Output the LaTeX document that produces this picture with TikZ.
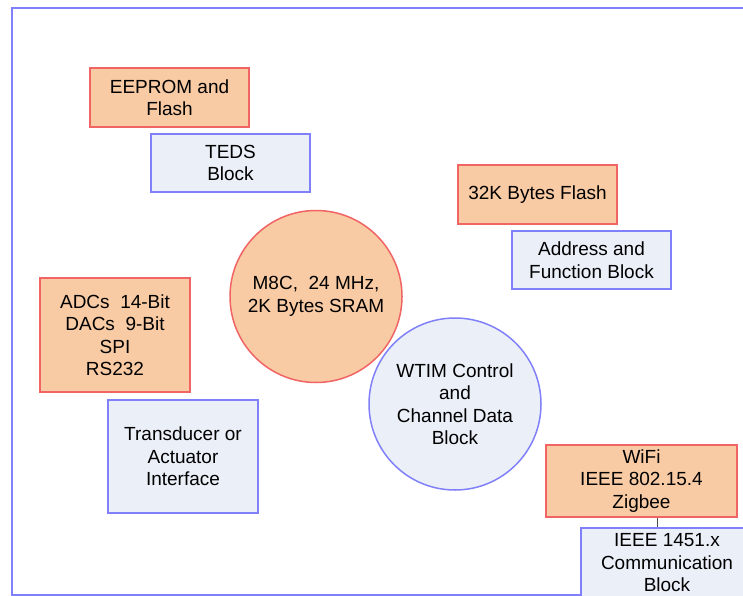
\documentclass[tikz,border=0pt]{standalone}
\usepackage{fontspec}
\setmainfont{Liberation Sans}
\usepackage{tikz}
\usetikzlibrary{calc}
\definecolor{boxorange}{RGB}{249,203,164}
\definecolor{boxred}{RGB}{240,100,100}
\definecolor{boxblue}{RGB}{235,239,248}
\definecolor{lineblue}{RGB}{128,128,250}
\tikzset{
  blk/.style={rectangle,align=center,inner sep=0pt,line width=1.5pt,
    font=\fontsize{19}{22.5}\selectfont},
  orangebox/.style={blk,draw=boxred,fill=boxorange},
  bluebox/.style={blk,draw=lineblue,fill=boxblue},
  orangecirc/.style={orangebox,circle,minimum size=172pt},
  bluecirc/.style={bluebox,circle,minimum size=172pt},
}
\begin{document}
\begin{tikzpicture}[x=1pt,y=-1pt]
\useasboundingbox (0,0) rectangle (743,596);
\clip (0,0) rectangle (743,596);
\fill[white] (0,0) rectangle (743,596);
\draw[lineblue,line width=2pt] (760,8) -- (12,8) -- (12,595) -- (600,595);
% memory side
\node[orangebox,minimum width=159pt,minimum height=59pt] (eeprom) at (169.5,97.5) {EEPROM and\\Flash};
\node[bluebox,minimum width=159pt,minimum height=58pt] (teds) at (230.5,163) {TEDS\\Block};
\node[orangebox,minimum width=159pt,minimum height=59pt] (flash) at (537.5,194.5) {32K Bytes Flash};
\node[bluebox,minimum width=159pt,minimum height=58pt] (addr) at (591.5,260) {Address and\\Function Block};
% processor
\node[orangecirc] (mcu) at (316,296.5) {M8C,\ \ 24 MHz,\\2K Bytes SRAM};
\node[bluecirc] (wtim) at (455,404) {WTIM Control\\and\\Channel Data\\Block};
% interfaces
\node[orangebox,minimum width=150pt,minimum height=114pt] (adc) at (115,335) {ADCs\ \ 14-Bit\\DACs\ \ 9-Bit\\SPI\\RS232};
\node[bluebox,minimum width=150pt,minimum height=113pt] (tif) at (183,456.5) {Transducer or\\Actuator\\Interface};
\node[orangebox,minimum width=191pt,minimum height=72pt] (wifi) at (641.5,481) {WiFi\\IEEE 802.15.4\\Zigbee};
\node[bluebox,minimum width=172pt,minimum height=70pt] (ieee) at (667,563) {IEEE 1451.x\\Communication\\Block};
\draw[black!70,line width=1pt] ([xshift=16pt]wifi.south) -- ([xshift=16pt]wifi.south |- ieee.north);
\end{tikzpicture}
\end{document}
